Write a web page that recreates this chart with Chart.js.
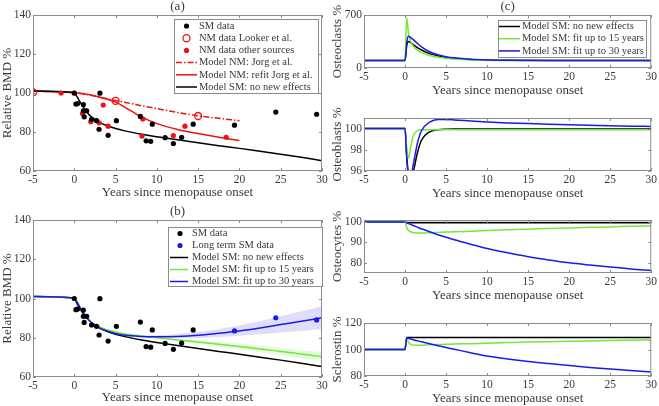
<!DOCTYPE html>
<html>
<head>
<meta charset="utf-8">
<script src="https://cdn.jsdelivr.net/npm/chart.js@4.4.0/dist/chart.umd.min.js"></script>
<style>
  body { margin: 0; background: #fff; width: 659px; height: 406px; overflow: hidden; position: relative; }
  canvas { position: absolute; }
</style>
</head>
<body>
<canvas id="bmdA" width="330" height="203" style="left:0;top:0"></canvas>
<canvas id="bmdB" width="330" height="203" style="left:0;top:203px"></canvas>
<canvas id="clasts" width="329" height="100" style="left:330px;top:0"></canvas>
<canvas id="blasts" width="329" height="100" style="left:330px;top:103px"></canvas>
<canvas id="cytes" width="329" height="100" style="left:330px;top:205px"></canvas>
<canvas id="scl" width="329" height="100" style="left:330px;top:308px"></canvas>
<script>
// common time grid for the model curves (years since menopause onset)
const years = [-5, 0, 0.2, 0.4, 0.7, 1, 1.5, 2, 3, 4, 5, 6, 8, 10, 12.5, 15, 17.5, 20, 22.5, 25, 27.5, 30];

// measured BMD
const smYears = [0, 0.2, 0.4, 1.1, 1.1, 1.2, 1.5, 2.1, 2.7, 3.1, 3.0, 4.1, 5.1, 8.0, 8.7, 9.25, 9.45, 11.0, 12.0, 13.0, 14.4];
const smBmd = [100, 94.3, 94.6, 94.1, 90.9, 87.8, 90.9, 86.5, 85.8, 99.9, 81.4, 78.3, 85.8, 88.0, 75.5, 75.2, 84.0, 77.1, 74.1, 77.3, 84.0];
const longYears = [19.4, 24.4, 29.35];
const longBmd = [83.5, 90.2, 89.1];
const lookerYears = [-5, 5, 15];
const lookerBmd = [100.4, 96.0, 88.2];
const nmYears = [-1.6, 0, 1.0, 1.3, 2.0, 3.0, 3.5, 4.1, 8.2, 8.3, 12.0, 13.4, 18.4];
const nmBmd = [100.0, 100.0, 89.5, 90.9, 85.3, 84.7, 93.8, 83.0, 77.9, 86.7, 78.2, 83.0, 77.3];

// model BMD curves
const bmdNoEffects = [101, 100.2, 99, 97.6, 95.4, 93.4, 90.4, 88.0, 85.1, 83.2, 81.8, 80.7, 79.0, 77.6, 76.0, 74.5, 73.0, 71.6, 70.1, 68.6, 67.0, 65.3];
const nmJorg = [101, 100.2, 100.1, 100.0, 99.8, 99.6, 99.2, 98.8, 98.0, 97.0, 96.1, 95.3, 93.6, 92.0, 90.0, 88.3, 87.0, 85.8, null, null, null, null];
const nmRefit = [101, 100.2, 100.1, 100.0, 99.9, 99.7, 99.4, 99.0, 98.0, 96.8, 95.3, 93.0, 88.0, 84.3, 81.3, 79.2, 77.3, 75.6, null, null, null, null];
const bmdFit15 = [101, 100.2, 98.2, 96.4, 94.2, 92.5, 90.0, 88.0, 85.6, 84.0, 82.9, 82.0, 80.9, 80.0, 78.9, 77.8, 76.7, 75.5, 74.3, 73.0, 71.7, 70.3];
const fit15Lower = [101, 100.2, 98.2, 96.4, 94.2, 92.5, 90.0, 88.0, 85.6, 84.0, 82.8, 81.9, 80.7, 79.7, 78.4, 77.0, 75.6, 74.1, 72.6, 71.0, 69.5, 68.0];
const fit15Upper = [101, 100.2, 98.2, 96.4, 94.2, 92.5, 90.0, 88.0, 85.6, 84.0, 83.0, 82.1, 81.1, 80.3, 79.4, 78.6, 77.8, 76.9, 75.9, 74.9, 73.8, 72.7];
const bmdFit30 = [101, 100.2, 98.6, 97.0, 94.8, 93.0, 90.2, 88.0, 85.2, 83.4, 82.2, 81.4, 80.7, 80.5, 80.7, 81.3, 82.3, 83.5, 85.0, 86.7, 88.4, 90.2];
const fit30Lower = [101, 100.2, 98.6, 97.0, 94.8, 93.0, 90.2, 88.0, 85.1, 83.2, 81.9, 81.1, 80.3, 79.9, 79.8, 79.9, 80.4, 81.0, 81.8, 82.7, 83.5, 84.3];
const fit30Upper = [101, 100.2, 98.6, 97.0, 94.8, 93.0, 90.2, 88.0, 85.3, 83.6, 82.5, 81.8, 81.2, 81.3, 81.9, 82.9, 84.5, 86.3, 88.5, 91.0, 93.5, 96.1];

// cell populations and sclerostin, % of baseline
const clastsNoEffects = [100, 100, 290, 350, 335, 310, 270, 238, 190, 160, 140, 127, 112, 105, 101.5, 100.5, 100, 100, 100, 100, 100, 100];
const clastsFit15 = [100, 100, 665, 480, 350, 290, 235, 203, 165, 142, 128, 118, 107, 102, 100.5, 100, 100, 100, 100, 100, 100, 100];
const clastsFit30 = [100, 100, 330, 420, 400, 375, 325, 280, 215, 175, 150, 134, 116, 107, 102.5, 101, 100.3, 100, 100, 100, 100, 100];
const blastsNoEffects = [100, 100, 97.5, 95.8, 95.4, 95.9, 97.7, 98.9, 99.7, 99.9, 99.95, 99.97, 99.97, 99.97, 99.97, 99.97, 99.97, 99.97, 99.97, 99.97, 99.97, 99.97];
const blastsFit15 = [100, 100, 98.2, 97.2, 98.3, 99.3, 99.8, 99.9, 99.9, 99.9, 99.9, 99.9, 99.9, 99.9, 99.9, 99.9, 99.9, 99.9, 99.9, 99.9, 99.9, 99.9];
const blastsFit30 = [100, 100, 97.3, 95.7, 95.6, 96.6, 98.6, 99.8, 100.6, 100.85, 100.85, 100.82, 100.72, 100.63, 100.54, 100.47, 100.42, 100.37, 100.32, 100.27, 100.23, 100.2];
const cytesNoEffects = [100, 100, 99.6, 99.6, 99.6, 99.6, 99.6, 99.6, 99.6, 99.6, 99.6, 99.6, 99.6, 99.6, 99.6, 99.6, 99.6, 99.6, 99.6, 99.6, 99.6, 99.6];
const cytesNoEffectsUpper = [100, 100, 101.5, 101.5, 101.5, 101.5, 101.5, 101.5, 101.5, 101.5, 101.5, 101.5, 101.5, 101.5, 101.5, 101.5, 101.5, 101.5, 101.5, 101.5, 101.5, 101.5];
const cytesFit15 = [100, 100, 97.5, 96, 95.1, 94.8, 94.6, 94.6, 94.7, 94.9, 95.1, 95.2, 95.5, 95.8, 96.2, 96.5, 96.8, 97.1, 97.4, 97.6, 97.9, 98.1];
const cytesFit30 = [100, 100, 99.7, 99.3, 98.8, 98.3, 97.5, 96.7, 95.2, 93.8, 92.5, 91.3, 89.1, 87.0, 84.9, 83.0, 81.4, 80.0, 78.9, 77.9, 77.0, 76.3];
const sclNoEffects = [100, 100, 109, 109, 109, 109, 109, 109, 109, 109, 109, 109, 109, 109, 109, 109, 109, 109, 109, 109, 109, 109];
const sclFit15 = [100, 100, 108.5, 105.5, 103.8, 103.3, 103.2, 103.3, 103.5, 103.7, 103.9, 104.1, 104.4, 104.8, 105.2, 105.6, 105.9, 106.2, 106.5, 106.8, 107.0, 107.2];
const sclFit30 = [100, 100, 108.8, 108.4, 107.9, 107.4, 106.6, 105.8, 104.3, 102.9, 101.5, 100.2, 97.6, 95.1, 92.9, 91.0, 89.4, 87.9, 86.5, 85.3, 84.1, 83.1];

const FONT = '"Liberation Serif", "Times New Roman", serif';
const INK = '#3a3a3a';
const RED = '#ee1111';
const GREEN = '#72e83a';
const BLUE = '#1a1aee';

function pts(xs, ys) {
  return xs.map((x, i) => ({ x: x, y: ys[i] })).filter(p => p.y !== null);
}

function curve(label, ys, color, order, dash) {
  return {
    label: label, data: pts(years, ys), borderColor: color, backgroundColor: color,
    borderWidth: 1.5, borderDash: dash || [], pointRadius: 0, fill: false,
    cubicInterpolationMode: 'monotone', order: order
  };
}

function dots(label, xs, ys, color, order, hollow) {
  return {
    label: label, data: pts(xs, ys), showLine: false,
    pointRadius: hollow ? 3.5 : 2.6, pointBorderWidth: hollow ? 1.3 : 0,
    pointBackgroundColor: hollow ? 'rgba(0,0,0,0)' : color, pointBorderColor: color,
    borderColor: color, backgroundColor: color, order: order
  };
}

function band(lo, hi, color) {
  return [
    { label: '', data: pts(years, lo), borderColor: 'transparent', borderWidth: 0, pointRadius: 0,
      fill: false, cubicInterpolationMode: 'monotone', order: 20 },
    { label: '', data: pts(years, hi), borderColor: 'transparent', borderWidth: 0, pointRadius: 0,
      fill: '-1', backgroundColor: color, cubicInterpolationMode: 'monotone', order: 20 }
  ];
}

// box round the axes, inward ticks, panel tag and the legend
const frame = {
  id: 'frame',
  afterDatasetsDraw(chart, args, opts) {
    const ctx = chart.ctx;
    const a = chart.chartArea;
    const sx = chart.scales.x, sy = chart.scales.y;
    ctx.save();
    ctx.strokeStyle = '#8c8c8c';
    ctx.lineWidth = 1;
    ctx.strokeRect(a.left + 0.5, a.top + 0.5, a.right - a.left - 1, a.bottom - a.top - 1);
    ctx.beginPath();
    sx.ticks.forEach(t => {
      const px = Math.round(sx.getPixelForValue(t.value)) + 0.5;
      ctx.moveTo(px, a.bottom); ctx.lineTo(px, a.bottom - 3);
      ctx.moveTo(px, a.top); ctx.lineTo(px, a.top + 3);
    });
    sy.ticks.forEach(t => {
      const py = Math.round(sy.getPixelForValue(t.value)) + 0.5;
      ctx.moveTo(a.left, py); ctx.lineTo(a.left + 3, py);
      ctx.moveTo(a.right, py); ctx.lineTo(a.right - 3, py);
    });
    ctx.stroke();

    if (opts.tag) {
      ctx.font = '13px ' + FONT;
      ctx.fillStyle = INK;
      ctx.textAlign = 'center';
      ctx.textBaseline = 'middle';
      ctx.fillText(opts.tag, (a.left + a.right) / 2, a.top - 8);
    }

    const lg = opts.legend;
    if (lg) {
      ctx.fillStyle = '#fff';
      ctx.fillRect(lg.x, lg.y, lg.w, lg.h);
      ctx.strokeStyle = '#8c8c8c';
      ctx.lineWidth = 1;
      ctx.strokeRect(lg.x + 0.5, lg.y + 0.5, lg.w, lg.h);
      chart.data.datasets.filter(d => d.label).forEach((d, i) => {
        const cy = lg.y + lg.first + i * lg.row;
        if (d.showLine === false) {
          ctx.beginPath();
          ctx.arc(lg.x + lg.mark, cy, d.pointRadius, 0, 2 * Math.PI);
          if (d.pointBorderWidth) {
            ctx.lineWidth = d.pointBorderWidth;
            ctx.strokeStyle = d.pointBorderColor;
            ctx.stroke();
          } else {
            ctx.fillStyle = d.pointBackgroundColor;
            ctx.fill();
          }
        } else {
          ctx.setLineDash(d.borderDash || []);
          ctx.lineWidth = d.borderWidth;
          ctx.strokeStyle = d.borderColor;
          ctx.beginPath();
          ctx.moveTo(lg.x + lg.l0, cy);
          ctx.lineTo(lg.x + lg.l1, cy);
          ctx.stroke();
          ctx.setLineDash([]);
        }
        ctx.fillStyle = INK;
        ctx.font = lg.size + 'px ' + FONT;
        ctx.textAlign = 'left';
        ctx.textBaseline = 'middle';
        ctx.fillText(d.label, lg.x + lg.text, cy);
      });
    }
    ctx.restore();
  }
};

// p: canvas size and plot box inside it, y range and labels
function options(p) {
  return {
    responsive: false,
    animation: false,
    events: [],
    layout: { autoPadding: false, padding: { left: 0, top: p.top, right: p.w - p.right, bottom: 0 } },
    scales: {
      x: {
        type: 'linear', min: -5, max: 30,
        grid: { display: false, drawTicks: false }, border: { display: false },
        ticks: { stepSize: 5, padding: 2, autoSkip: false, maxRotation: 0, color: INK, font: { family: FONT, size: 11.5 } },
        title: { display: true, text: 'Years since menopause onset', color: INK, font: { family: FONT, size: 13 }, padding: { top: 0, bottom: p.tb } },
        afterFit: s => { s.height = p.h - p.bottom; }
      },
      y: {
        min: p.ymin, max: p.ymax,
        grid: { display: false, drawTicks: false }, border: { display: false },
        ticks: { stepSize: p.step, includeBounds: false, padding: 2, color: INK, font: { family: FONT, size: 11.5 } },
        title: { display: true, text: p.ytitle, color: INK, font: { family: FONT, size: 13 }, padding: { top: 0, bottom: 0 } },
        afterFit: s => { s.width = p.left; }
      }
    },
    plugins: {
      legend: { display: false },
      tooltip: { enabled: false },
      frame: { tag: p.tag, legend: p.legend }
    }
  };
}

new Chart(document.getElementById('bmdA'), {
  type: 'line',
  data: {
    datasets: [
      dots('SM data', smYears.concat(longYears), smBmd.concat(longBmd), '#000', 0),
      dots('NM data Looker et al.', lookerYears, lookerBmd, RED, 1, true),
      dots('NM data other sources', nmYears, nmBmd, RED, 0),
      curve('Model NM: Jorg et al.', nmJorg, RED, 5, [6, 2, 1.5, 2]),
      curve('Model NM: refit Jorg et al.', nmRefit, RED, 4),
      curve('Model SM: no new effects', bmdNoEffects, '#000', 3)
    ]
  },
  options: options({
    w: 330, h: 203, left: 33, right: 322, top: 15, bottom: 171, tb: 2.5,
    ymin: 60, ymax: 140, step: 20, ytitle: 'Relative BMD %', tag: '(a)',
    legend: { x: 174, y: 19, w: 144, h: 74, first: 7, row: 12.2, l0: 2, l1: 23, mark: 12.5, text: 25, size: 10.5 }
  }),
  plugins: [frame]
});

new Chart(document.getElementById('bmdB'), {
  type: 'line',
  data: {
    datasets: [
      dots('SM data', smYears, smBmd, '#000', 0),
      dots('Long term SM data', longYears, longBmd, BLUE, 0),
      curve('Model SM: no new effects', bmdNoEffects, '#000', 3),
      curve('Model SM: fit up to 15 years', bmdFit15, GREEN, 2),
      curve('Model SM: fit up to 30 years', bmdFit30, BLUE, 1)
    ].concat(band(fit15Lower, fit15Upper, 'rgba(114,232,58,0.18)'), band(fit30Lower, fit30Upper, 'rgba(90,90,230,0.2)'))
  },
  options: options({
    w: 330, h: 203, left: 33, right: 322, top: 17, bottom: 174, tb: 0.5,
    ymin: 60, ymax: 140, step: 20, ytitle: 'Relative BMD %', tag: '(b)',
    legend: { x: 168, y: 24, w: 154, h: 59, first: 6.5, row: 12, l0: 2, l1: 20, mark: 12, text: 24, size: 10.5 }
  }),
  plugins: [frame]
});

function cellChart(id, black, green, blue, extra, p) {
  new Chart(document.getElementById(id), {
    type: 'line',
    data: {
      datasets: [
        curve('Model SM: no new effects', black, '#000', 3),
        curve('Model SM: fit up to 15 years', green, GREEN, 2),
        curve('Model SM: fit up to 30 years', blue, BLUE, 1)
      ].concat(extra)
    },
    options: options(Object.assign({ w: 329, h: 100, left: 34, right: 322, top: 15, bottom: 68, tb: 2 }, p)),
    plugins: [frame]
  });
}

cellChart('clasts', clastsNoEffects, clastsFit15, clastsFit30, [], {
  ymin: 0, ymax: 700, step: 500, ytitle: 'Osteoclasts %', tag: '(c)',
  legend: { x: 168, y: 20, w: 148, h: 37, first: 6.5, row: 12.2, l0: 1, l1: 22, mark: 12, text: 24, size: 10.5 }
});
cellChart('blasts', blastsNoEffects, blastsFit15, blastsFit30, [], {
  ymin: 96, ymax: 101, step: 2, ytitle: 'Osteoblasts %'
});
cellChart('cytes', cytesNoEffects, cytesFit15, cytesFit30, band(cytesNoEffects, cytesNoEffectsUpper, 'rgba(150,150,150,0.45)'), {
  ymin: 75, ymax: 101, step: 10, ytitle: 'Osteocytes %'
});
cellChart('scl', sclNoEffects, sclFit15, sclFit30, [], {
  ymin: 80, ymax: 120, step: 20, ytitle: 'Sclerostin %'
});
</script>
</body>
</html>
